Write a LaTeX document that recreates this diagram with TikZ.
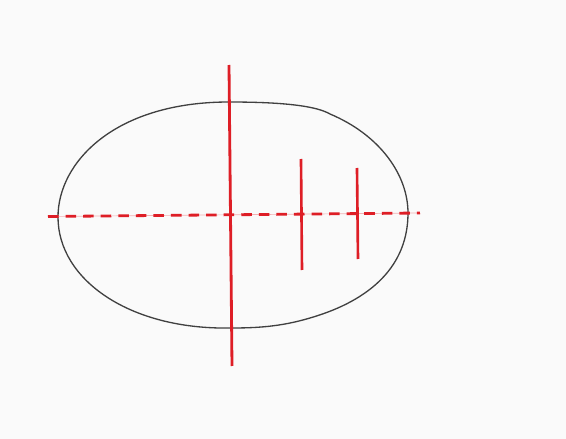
\documentclass[tikz,border=0pt]{standalone}
\usepackage{xcolor}
\usepackage{tikz}
\usetikzlibrary{calc}

\definecolor{redline}{RGB}{222,30,38}
\definecolor{paper}{RGB}{250,250,250}

\begin{document}
\begin{tikzpicture}[
  x=0.02cm, y=-0.02cm,
  outline/.style={draw=black!75, line width=0.75pt},
  axisline/.style={draw=redline, line width=1.6pt},
  tickline/.style={draw=redline, line width=1.5pt},
  midline/.style={draw=redline, line width=1.6pt, dash pattern=on 6pt off 4pt},
  guideline/.style={draw=redline!35, line width=0.4pt}
]
% page
\fill[paper] (0,0) rectangle (566,439);
\useasboundingbox (0,0) rectangle (566,439);

% egg outline
\draw[outline] (58,217) .. controls (58,162) and (115,102) .. (229,102)
  .. controls (290,102) and (318,107) .. (330,114)
  .. controls (380,135) and (408,175) .. (408,213)
  .. controls (408,265) and (372,300) .. (310,318)
  .. controls (280,327) and (255,328) .. (231,328)
  .. controls (130,330) and (58,280) .. (58,217) -- cycle;

% end points
\coordinate (axtop) at (229,65);
\coordinate (axbot) at (232,366);
\coordinate (midL)  at (48,216.5);
\coordinate (midR)  at (420,213);
\coordinate (t1top) at (301,159);
\coordinate (t1bot) at (302,270);
\coordinate (t2top) at (357,168);
\coordinate (t2bot) at (358,259);

% horizontal axis
\draw[guideline] (midL) -- (midR);
\draw[midline] (midL) -- (midR);

% vertical lines
\draw[axisline] (axtop) -- (axbot);
\draw[tickline] (t1top) -- (t1bot);
\draw[tickline] (t2top) -- (t2bot);
\end{tikzpicture}
\end{document}
